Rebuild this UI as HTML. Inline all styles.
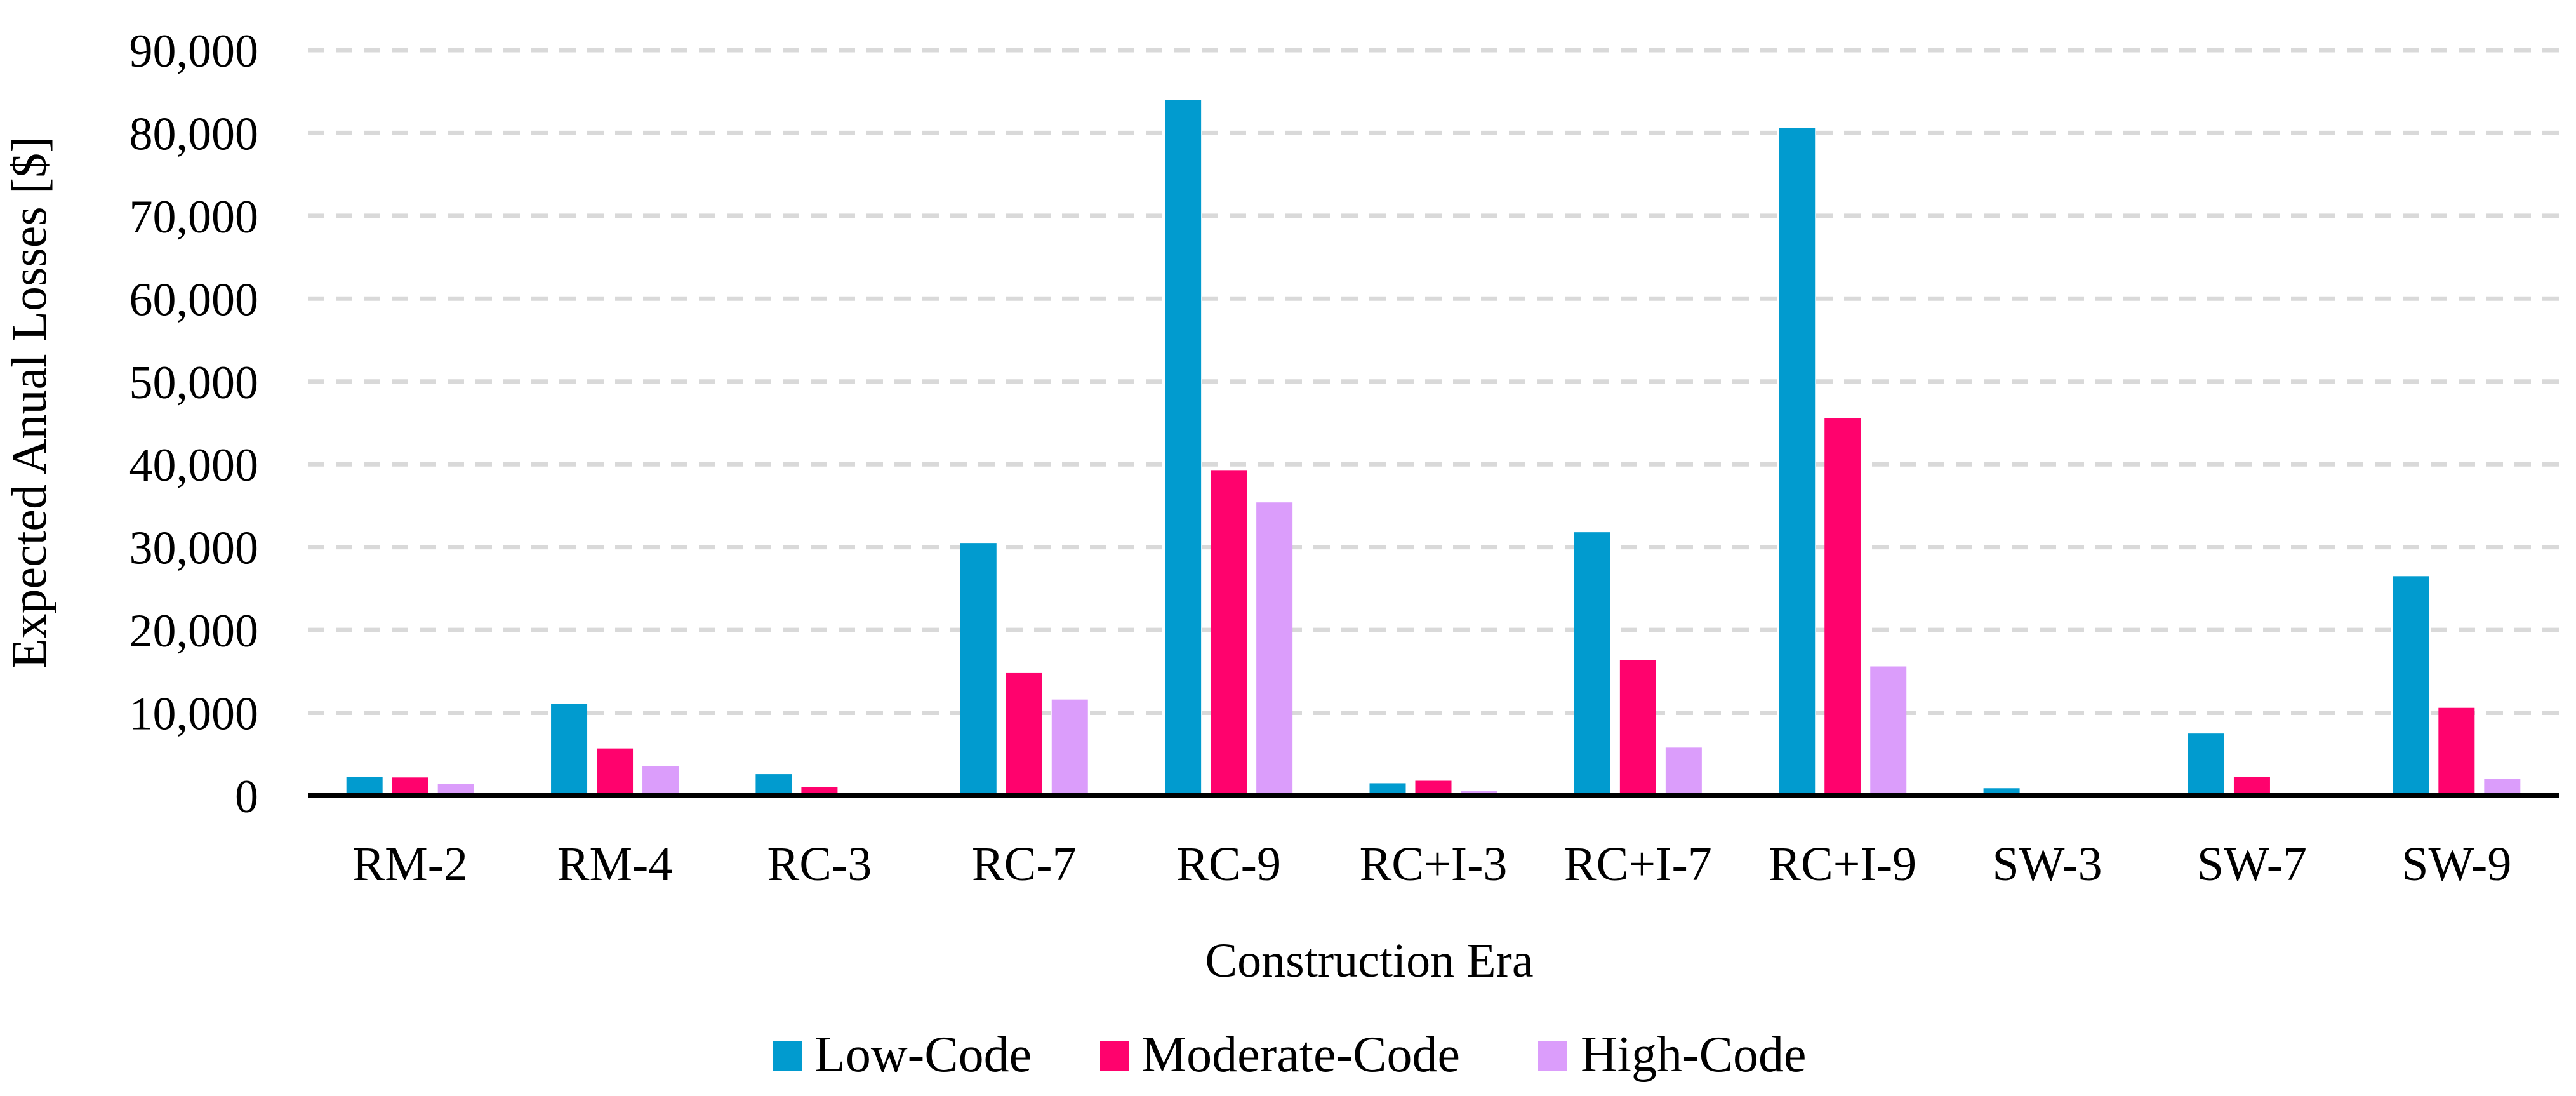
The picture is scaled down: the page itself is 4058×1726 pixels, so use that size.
<!DOCTYPE html>
<html><head><meta charset="utf-8"><style>
html,body{margin:0;padding:0;background:#fff;}
svg{display:block;font-family:"Liberation Serif",serif;}
</style></head><body>
<svg id="chart" width="4058" height="1726" viewBox="0 0 4058 1726" xmlns="http://www.w3.org/2000/svg">
<g id="grid"></g>
<g id="yticks"></g>
<g id="bars"></g>
<line x1="485" y1="1253" x2="4031" y2="1253" stroke="#000" stroke-width="8"/>
<g id="xticks"></g>
<text transform="translate(72,634) rotate(-90)" text-anchor="middle" font-size="78">Expected Anual Losses [$]</text>
<text x="2157" y="1538" text-anchor="middle" font-size="76">Construction Era</text>
<g>
<g><rect x="1217" y="1640" width="46" height="47" fill="#019BCF"/><text x="1283" y="1687" font-size="80">Low-Code</text></g>
<g><rect x="1733" y="1640" width="46" height="47" fill="#FF026D"/><text x="1798" y="1687" font-size="80">Moderate-Code</text></g>
<g><rect x="2423" y="1640" width="46" height="47" fill="#DB9DFB"/><text x="2490" y="1687" font-size="80">High-Code</text></g>
</g>
</svg>
<script>
const categories = ["RM-2","RM-4","RC-3","RC-7","RC-9","RC+I-3","RC+I-7","RC+I-9","SW-3","SW-7","SW-9"];
const lowCode = [2300,11100,2600,30500,84000,1500,31800,80600,900,7500,26500];
const moderateCode = [2200,5700,1000,14800,39300,1800,16400,45600,200,2300,10600];
const highCode = [1400,3600,300,11600,35400,600,5800,15600,0,300,2000];
const yTicks = [0,10000,20000,30000,40000,50000,60000,70000,80000,90000];

const NS = "http://www.w3.org/2000/svg";
const X0 = 485, X1 = 4031, Y0 = 1253, PER = 130.45;
function yScale(v){ return Y0 - v / 10000 * PER; }
const band = (X1 - X0) / categories.length;
function xCenter(i){ return X0 + band * (i + 0.5); }
function mk(tag, attrs, parent){ const e = document.createElementNS(NS, tag); for (const k in attrs) e.setAttribute(k, attrs[k]); parent.appendChild(e); return e; }

const grid = document.getElementById('grid'), yt = document.getElementById('yticks');
yTicks.forEach(v => {
  const y = yScale(v);
  if (v > 0) {
    const l = mk('line', {x1: X0, y1: y, x2: X1, y2: y, stroke: '#d9d9d9', 'stroke-width': 7, 'stroke-dasharray': '26 18'}, grid);
    
    
  }
  const t = mk('text', {x: 407, y: y + 26, 'text-anchor': 'end', 'font-size': 74}, yt);
  t.textContent = v.toLocaleString('en-US');
  
  
});

const series = [[lowCode, '#019BCF', 'low-code'], [moderateCode, '#FF026D', 'moderate-code'], [highCode, '#DB9DFB', 'high-code']];
const bars = document.getElementById('bars'), xt = document.getElementById('xticks');
const BW = 57, STEP = 72;
categories.forEach((c, i) => {
  const cx = xCenter(i);
  series.forEach((s, j) => {
    const v = s[0][i];
    let h = Math.max(0, Y0 - yScale(v));
    if (v > 0 && h < 3) h = 3;
    const r = mk('rect', {x: cx + (j - 1) * STEP - BW / 2, y: Y0 - h, width: BW, height: h, fill: s[1]}, bars);
    
    
  });
  const t = mk('text', {x: cx, y: 1386, 'text-anchor': 'middle', 'font-size': 76}, xt);
  t.textContent = c;
  
  
});
</script>
</body></html>
